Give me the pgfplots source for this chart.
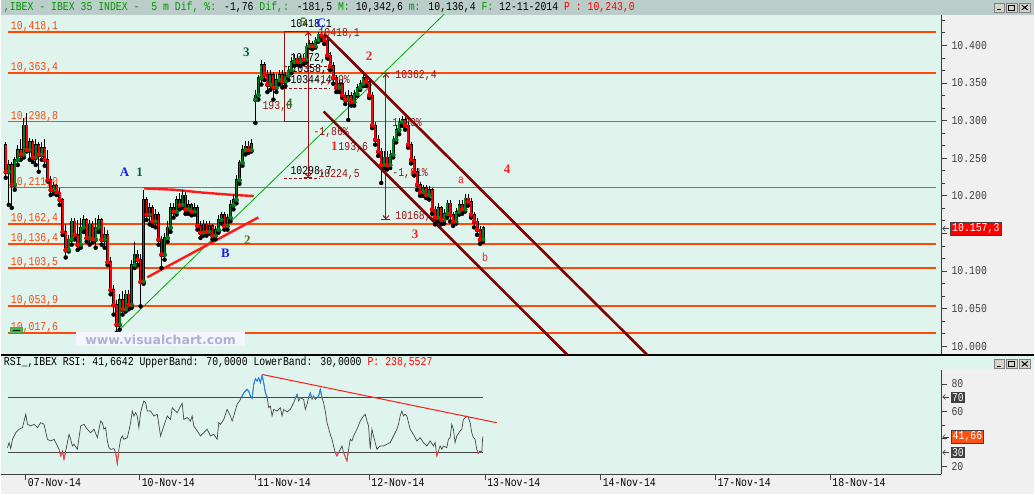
\documentclass[border=0pt]{standalone}
\usepackage{pgfplots}
\pgfplotsset{compat=1.18}
\usepackage{pgfplotstable}
\usetikzlibrary{arrows.meta}
\usepackage{fontspec}
\setmainfont{Liberation Serif}
\newfontfamily\gul{Liberation Mono}[FakeStretch=0.82]
\newfontfamily\wmfont{DejaVu Sans}
\newcommand\lf{\gul\fontsize{12}{12}\selectfont}

\definecolor{mint}{RGB}{224,244,238}
\definecolor{chrome}{RGB}{240,240,240}
\definecolor{titlebar}{RGB}{186,205,200}
\definecolor{lvl}{RGB}{255,72,10}
\definecolor{chan}{RGB}{130,0,0}
\definecolor{fib}{RGB}{150,20,20}
\definecolor{tri}{RGB}{255,25,25}
\definecolor{trend}{RGB}{0,170,0}
\definecolor{cred}{RGB}{255,0,0}
\definecolor{cgreen}{RGB}{0,130,30}
\definecolor{ttlgreen}{RGB}{0,150,0}
\definecolor{axgray}{RGB}{64,64,64}
\definecolor{rsigray}{RGB}{70,70,70}
\definecolor{rsiblue}{RGB}{30,130,255}
\definecolor{rsired}{RGB}{255,60,60}
\definecolor{wgreen}{RGB}{0,95,60}
\definecolor{wolive}{RGB}{85,110,20}
\definecolor{wblue}{RGB}{30,30,230}
\definecolor{wred}{RGB}{255,30,30}
\definecolor{wm}{RGB}{176,176,210}
\definecolor{boxorange}{RGB}{255,80,20}
\definecolor{btn}{RGB}{215,212,205}

% 5 minute candles of IBEX 35, x in chart pixels
\pgfplotstableread{
x o h l c
5 10268 10271 10224 10232
8 10232 10248 10188 10241
11 10241 10245 10184 10215
14 10215 10251 10208 10248
17 10248 10267 10241 10261
20 10261 10275 10248 10255
23 10255 10304 10251 10294
26 10294 10310 10259 10261
29 10261 10277 10248 10272
32 10272 10275 10245 10251
35 10251 10275 10241 10268
38 10268 10272 10232 10255
41 10255 10272 10248 10264
44 10264 10275 10240 10248
47 10248 10261 10219 10221
50 10221 10227 10201 10208
53 10208 10219 10203 10213
56 10213 10216 10201 10205
59 10205 10211 10188 10195
62 10195 10197 10148 10152
65 10152 10162 10118 10128
68 10128 10148 10126 10142
71 10142 10171 10135 10166
74 10166 10171 10142 10148
77 10148 10168 10128 10135
80 10135 10171 10131 10158
83 10158 10175 10152 10168
86 10168 10171 10139 10144
89 10144 10168 10135 10162
92 10162 10166 10138 10142
95 10142 10171 10131 10158
98 10158 10174 10152 10168
101 10168 10171 10135 10142
104 10142 10158 10131 10148
107 10148 10155 10108 10112
110 10112 10118 10069 10075
113 10075 10082 10042 10055
116 10055 10062 10018 10029
119 10029 10069 10022 10062
122 10062 10073 10042 10049
125 10049 10075 10046 10069
128 10069 10075 10049 10055
131 10055 10115 10051 10108
134 10108 10138 10104 10122
137 10122 10128 10108 10115
140 10115 10122 10053 10086
143 10086 10208 10083 10195
146 10195 10199 10168 10175
149 10175 10191 10162 10184
152 10184 10188 10160 10166
155 10166 10182 10158 10175
158 10175 10179 10135 10142
161 10142 10147 10104 10122
164 10122 10151 10115 10144
167 10144 10166 10139 10158
170 10158 10190 10152 10184
173 10184 10191 10171 10179
176 10179 10200 10175 10195
179 10195 10204 10182 10188
182 10188 10208 10184 10201
185 10201 10205 10176 10182
188 10182 10195 10176 10188
191 10188 10191 10174 10179
194 10179 10190 10175 10184
197 10184 10188 10155 10160
200 10160 10166 10144 10151
203 10151 10168 10147 10162
206 10162 10166 10147 10152
209 10152 10166 10150 10160
212 10160 10163 10142 10147
215 10147 10160 10142 10155
218 10155 10175 10151 10168
221 10168 10179 10163 10175
224 10175 10179 10155 10160
227 10160 10176 10155 10171
230 10171 10195 10166 10188
233 10188 10201 10182 10195
236 10195 10228 10190 10221
239 10221 10248 10216 10244
242 10244 10268 10240 10261
245 10261 10273 10255 10266
248 10266 10273 10257 10261
251 10261 10275 10259 10269
255 10328 10341 10297 10334
258 10334 10361 10328 10357
261 10357 10381 10348 10374
264 10374 10378 10354 10361
267 10361 10367 10338 10348
270 10348 10367 10341 10361
273 10361 10365 10328 10344
276 10344 10362 10338 10354
279 10354 10367 10348 10361
282 10361 10367 10344 10352
285 10352 10365 10346 10360
288 10360 10373 10354 10367
291 10367 10385 10363 10378
294 10378 10389 10373 10383
297 10383 10387 10374 10378
300 10378 10387 10373 10383
303 10383 10389 10375 10381
306 10381 10403 10378 10399
309 10399 10407 10397 10402
312 10402 10406 10395 10399
315 10399 10411 10397 10407
318 10407 10418.1 10405 10415
321 10415 10418 10407 10413
324 10413 10416 10402 10407
327 10407 10410 10383 10387
330 10387 10391 10367 10373
333 10373 10378 10349 10357
336 10357 10361 10338 10344
339 10344 10354 10338 10349
342 10349 10354 10330 10334
345 10334 10338 10322 10328
348 10328 10341 10301 10333
351 10333 10338 10320 10325
354 10325 10341 10320 10336
357 10336 10349 10333 10344
360 10344 10354 10341 10349
363 10349 10361 10346 10357
366 10357 10362.4 10346 10352
369 10352 10354 10330 10334
372 10334 10338 10290 10294
375 10294 10298 10268 10275
378 10275 10281 10253 10259
381 10259 10264 10217 10241
384 10241 10259 10237 10251
387 10251 10259 10235 10241
390 10241 10261 10237 10255
393 10255 10280 10251 10275
396 10275 10294 10271 10288
399 10288 10304 10282 10298
402 10298 10306 10293 10301
405 10301 10305 10288 10294
408 10294 10298 10264 10268
411 10268 10272 10243 10248
414 10248 10253 10227 10232
417 10232 10237 10208 10215
420 10215 10219 10200 10205
423 10205 10215 10200 10211
426 10211 10215 10197 10201
429 10201 10213 10195 10208
432 10208 10211 10176 10182
435 10182 10187 10162 10171
438 10171 10190 10166 10184
441 10184 10187 10162 10168
444 10168 10182 10163 10176
447 10176 10195 10171 10190
450 10190 10195 10166 10175
453 10175 10179 10160 10166
456 10166 10184 10163 10179
459 10179 10195 10175 10188
462 10188 10195 10176 10182
465 10182 10203 10179 10197
468 10197 10203 10187 10192
471 10192 10197 10171 10175
474 10175 10179 10158 10166
477 10166 10171 10148 10155
480 10155 10160 10136 10142
483 10142 10160 10139 10157.3
}\candles

\pgfplotstableread{
x r
6.7 33.6
8.3 37.3
10 32.9
11.7 39.7
15 44.5
18.3 47.0
21.7 48.2
25 57.9
26.7 50.6
30 49.4
33.3 50.6
36.7 48.2
40 51.8
43.3 50.6
46.7 39.7
50 38.5
53.3 39.7
56.7 34.8
58.3 32.4
60 27.6
61.7 31.2
63.3 25.2
65 31.2
66.7 37.3
68.3 43.3
70 39.7
71.7 34.8
73.3 36.1
76.7 32.4
80 49.4
83.3 50.6
86.7 47.0
90 44.5
93.3 47.0
96.7 40.9
100 53.0
101.7 51.8
103.3 47.0
105 48.2
106.7 38.5
108.3 33.6
110 32.4
113.3 32.9
115 30.0
116.7 22.0
118.3 32.4
120 39.7
121.7 42.1
123.3 39.7
126.7 40.9
128.3 45.8
130 51.8
131.7 60.3
133.3 56.7
135 59.1
136.7 56.7
138.3 48.2
140 59.1
141.7 63.9
143.3 67.6
145 66.4
146.7 60.3
150 60.3
153.3 56.7
156.7 57.9
160 42.1
163.3 49.4
166.7 56.7
170 54.2
171.7 62.7
173.3 61.5
176.7 59.1
180 63.9
181.7 65.9
183.3 54.2
186.7 55.5
190 53.0
191.7 56.7
193.3 49.4
196.7 45.8
200 42.1
203.3 44.5
206.7 47.0
210 42.1
213.3 43.3
216.7 39.7
218.3 51.8
220 50.6
223.3 54.2
226.7 61.5
230 56.7
231.7 53.0
233.3 56.7
236.7 65.2
240 68.8
243.3 73.6
246.7 76.1
248.3 74.8
250 71.2
251.7 69.3
253.3 79.7
255 83.8
256.7 82.1
258.3 84.5
260 80.9
261.7 86.2
263.3 80.9
265 73.6
266.7 70.5
268.3 62.7
270 63.9
271.7 56.7
273.3 61.5
276.7 60.3
280 62.7
281.7 56.7
283.3 61.5
286.7 59.6
290 61.5
293.3 66.4
296.7 72.4
298.3 67.6
300 70.0
303.3 68.8
305 61.5
306.7 65.2
308.3 70.0
310 73.6
311.7 68.8
313.3 71.2
315 68.8
318.3 71.2
320 76.1
321.7 70.0
323.3 66.4
325 60.3
326.7 51.8
330 43.3
331.7 39.7
333.3 34.8
335 30.0
336.7 27.6
340 32.4
341.7 34.8
343.3 30.0
346.7 23.9
348.3 32.4
350 39.7
351.7 38.5
353.3 42.1
356.7 47.0
360 53.0
363.3 56.7
365 57.9
366.7 53.0
368.3 49.4
370 32.4
371.7 47.0
373.3 42.1
376.7 32.4
380 34.8
383.3 34.8
386.7 36.1
390 37.3
393.3 42.1
396.7 47.0
398.3 50.6
400 56.7
401.7 60.3
403.3 56.7
405 57.9
406.7 56.7
410 47.0
413.3 43.3
416.7 38.5
420 40.9
423.3 37.3
426.7 34.8
430 38.5
433.3 34.8
435 37.3
436.7 27.6
440 34.8
441.7 32.4
443.3 34.8
446.7 33.6
448.3 39.7
450 40.9
451.7 50.6
453.3 47.0
455 37.3
456.7 42.1
460 45.8
461.7 47.0
463.3 54.2
466.7 56.7
468.3 55.5
470 51.8
471.7 44.5
473.3 40.9
475 39.7
476.7 32.4
478.3 29.5
480 31.2
481.7 30.0
482.7 41.66
}\rsi

\tikzset{
  fibt/.style={font=\lf, text=fib, anchor=west, inner sep=0pt},
  blk/.style={font=\lf, text=black, anchor=west, inner sep=0pt},
  lvlt/.style={font=\lf, text=lvl, anchor=base west, inner sep=0pt, yshift=2.5pt},
  wv/.style={font=\fontsize{13}{13}\selectfont\bfseries, inner sep=0pt},
  wsm/.style={font=\lf, inner sep=0pt, text=wred},
  winbtn/.style={fill=btn, draw=gray, line width=0.5pt},
  fdash/.style={fib, line width=0.9pt, dash pattern=on 3pt off 2pt},
  lvlline/.style={lvl, line width=1.8pt},
}

\begin{document}
\begin{tikzpicture}
% window chrome
\begin{scope}[x=1pt,y=1pt]
\fill[chrome] (0,0) rectangle (1035,495);
\fill[titlebar] (0,480) rectangle (1035,495);
\fill[mint] (0,140) rectangle (942,480);
\fill[mint] (0,20) rectangle (942,124);
\fill[mint] (0,124) rectangle (1035,139);
\draw[black, line width=1.6pt] (0,139.3) -- (1035,139.3);
\node[anchor=west, inner sep=0pt] at (3,488) {\lf\textcolor{ttlgreen}{,IBEX - IBEX 35 INDEX -\ \ 5 m Dif, \%:} -1,76 \textcolor{ttlgreen}{Dif,:} -181,5 \textcolor{ttlgreen}{M:} 10,342,6 \textcolor{ttlgreen}{m:} 10,136,4 \textcolor{ttlgreen}{F:} 12-11-2014 \textcolor{red}{P : 10,243,0}};
\node[anchor=west, inner sep=0pt] at (3,132) {\lf RSI\_,IBEX RSI: 41,6642 UpperBand: 70,0000 LowerBand: 30,0000 \textcolor{red}{P: 238,5527}};
\end{scope}

% ---------------- price panel ----------------
\begin{axis}[
  at={(0pt,140pt)}, anchor=south west, scale only axis,
  width=942pt, height=340pt,
  xmin=0, xmax=942, ymin=9989.0, ymax=10440.5,
  axis x line=none, axis y line*=right,
  axis line style={axgray, line width=0.8pt, -},
  scaled y ticks=false,
  ytick={10000,10050,10100,10150,10200,10250,10300,10350,10400},
  yticklabels={10.000,10.050,10.100,{},10.200,10.250,10.300,10.350,10.400},
  minor ytick={10016.67,10033.33,10066.67,10083.33,10116.67,10133.33,10166.67,10183.33,10216.67,10233.33,10266.67,10283.33,10316.67,10333.33,10366.67,10383.33,10416.67,10433.33},
  tick align=outside, major tick length=6pt, minor tick length=4pt,
  tick style={axgray, line width=0.8pt},
  yticklabel style={font=\lf, text=axgray, anchor=west, inner sep=0pt, xshift=4pt},
]
% support / resistance levels
\addplot[lvlline] coordinates {(7,10418.1) (937,10418.1)};
\addplot[lvlline] coordinates {(7,10363.4) (937,10363.4)};
\addplot[lvlline] coordinates {(7,10298.8) (937,10298.8)};
\addplot[lvlline] coordinates {(7,10211.0) (937,10211.0)};
\addplot[lvlline] coordinates {(7,10162.4) (937,10162.4)};
\addplot[lvlline] coordinates {(7,10136.4) (937,10136.4)};
\addplot[lvlline] coordinates {(7,10103.5) (937,10103.5)};
\addplot[lvlline] coordinates {(7,10053.9) (937,10053.9)};
\addplot[lvlline] coordinates {(7,10017.6) (937,10017.6)};
\node[lvlt] at (10,10418.1) {10,418,1};
\node[lvlt] at (10,10363.4) {10,363,4};
\node[lvlt] at (10,10298.8) {10,298,8};
\node[lvlt] at (10,10211.0) {10,211,0};
\node[lvlt] at (10,10162.4) {10,162,4};
\node[lvlt] at (10,10136.4) {10,136,4};
\node[lvlt] at (10,10103.5) {10,103,5};
\node[lvlt] at (10,10053.9) {10,053,9};
\node[lvlt] at (10,10017.6) {10,017,6};

% trend lines
\addplot[trend, line width=0.8pt] coordinates {(116.7,10019.1) (446,10444)};
\addplot[tri, line width=2.4pt] coordinates {(143.3,10209.8) (173.3,10208.1) (200,10204.5) (230,10201.4) (253.3,10199.7)};
\addplot[tri, line width=2.4pt] coordinates {(146.7,10091.6) (258,10171.3)};

% fibonacci measurements
\draw[fib, line width=1pt] (284,10298.8) rectangle (308,10418.1);
\draw[fib, line width=1pt] (308,10298.8) -- (308,10224.5);
\draw[fdash] (284,10371.9) -- (330,10371.9);
\draw[fdash] (284,10343.1) -- (330,10343.1);
\draw[fdash] (284,10223.6) -- (320,10223.6);
\draw[fib, line width=1pt, -{Straight Barb[length=3pt,width=6pt]}] (308,10405) -- (308,10418.1);
\draw[fib, line width=1pt, -{Straight Barb[length=3pt,width=6pt]}] (308,10236) -- (308,10224.5);
\draw[fib, line width=1pt] (304,10224.5) -- (312,10224.5);
\draw[fib, line width=1pt] (385.7,10362.4) -- (385.7,10168.8);
\draw[fib, line width=1pt, -{Straight Barb[length=3pt,width=6pt]}] (385.7,10350) -- (385.7,10362.4);
\draw[fib, line width=1pt, -{Straight Barb[length=3pt,width=6pt]}] (385.7,10180) -- (385.7,10168.8);
\draw[fib, line width=1pt] (381,10168.8) -- (390,10168.8);
\draw[fib, line width=1pt] (381,10362.4) -- (390,10362.4);

\node[blk] at (290,10427.2) {10418,1};
\node[fibt] at (318,10416) {10418,1};
\node[blk] at (290,10382.0) {10372,5};
\node[blk] at (291,10367.4) {10358,4};
\node[blk] at (290,10352.8) {10344,4};
\node[fibt] at (314,10352.8) {-1,89\%};
\node[fibt] at (262,10318.7) {193,6};
\node[fibt] at (313,10284.2) {-1,86\%};
\node[fibt] at (338,10263.9) {193,6};
\node[blk] at (290,10232.4) {10298,7};
\node[fibt] at (318,10228.0) {10224,5};
\node[fibt] at (395,10359.5) {10362,4};
\node[fibt] at (392,10295.7) {1,90\%};
\node[fibt] at (392,10229.3) {-1,81\%};
\node[fibt] at (395,10172.6) {10168,8};

% candles: wicks, outlines, bodies
\addplot[black, only marks, mark=none,
  error bars/.cd, y dir=plus, y explicit, error mark=none,
  error bar style={line width=0.9pt}]
  table[x=x, y=l, y error expr=\thisrow{h}-\thisrow{l}] {\candles};
\addplot[black, only marks, mark=none,
  error bars/.cd, y dir=plus, y explicit, error mark=none,
  error bar style={line width=3pt}]
  table[x=x, y expr={min(\thisrow{o},\thisrow{c})-0.7}, y error expr={abs(\thisrow{c}-\thisrow{o})+1.4}] {\candles};
\addplot[cgreen, only marks, mark=none,
  restrict expr to domain={\thisrow{c}-\thisrow{o}}{0:1000},
  error bars/.cd, y dir=plus, y explicit, error mark=none,
  error bar style={line width=1.8pt}]
  table[x=x, y=o, y error expr={\thisrow{c}-\thisrow{o}}] {\candles};
\addplot[cred, only marks, mark=none,
  restrict expr to domain={\thisrow{o}-\thisrow{c}}{0.001:1000},
  error bars/.cd, y dir=plus, y explicit, error mark=none,
  error bar style={line width=1.8pt}]
  table[x=x, y=c, y error expr={\thisrow{o}-\thisrow{c}}] {\candles};

% down channel
\addplot[chan, line width=2.6pt] coordinates {(325,10413.9) (650,9985)};
\addplot[chan, line width=2.6pt] coordinates {(323.3,10312.1) (570,9985)};

% wave counts
\node[wv, text=wgreen] at (246,10390.4) {3};
\node[wv, text=wolive] at (303,10430.3) {5};
\node[wv, text=wblue] at (321,10429.5) {C};
\node[wv, text=wolive!70!teal] at (289,10323.6) {4};
\node[wv, text=wred] at (334,10266.5) {1};
\node[wv, text=wred] at (369,10385.1) {2};
\node[wv, text=wred] at (415,10148.3) {3};
\node[wv, text=wred] at (507,10236.0) {4};
\node[wsm] at (461,10220.0) {a};
\node[wsm] at (485,10118.2) {b};
\node[wv, text=wblue] at (124,10231.1) {A};
\node[wv, text=wgreen] at (139,10231.1) {1};
\node[wv, text=wblue] at (225,10123.1) {B};
\node[wv, text=wolive] at (247,10140.4) {2};
\end{axis}

% ---------------- RSI panel ----------------
\begin{axis}[
  at={(0pt,20pt)}, anchor=south west, scale only axis,
  width=942pt, height=104pt,
  xmin=0, xmax=942, ymin=14.2, ymax=89.9,
  axis x line*=bottom, axis y line*=right,
  axis line style={axgray, line width=0.8pt, -},
  xtick={25,139,255,369,485,600.7,715.7,830.7},
  xticklabels={07-Nov-14,10-Nov-14,11-Nov-14,12-Nov-14,13-Nov-14,14-Nov-14,17-Nov-14,18-Nov-14},
  ytick={20,40,60,80}, yticklabels={20,{},60,80}, minor ytick={50},
  tick align=outside, major tick length=6pt, minor tick length=4pt,
  tick style={axgray, line width=0.8pt},
  yticklabel style={font=\lf, text=axgray, anchor=west, inner sep=0pt, xshift=4pt},
  xticklabel style={font=\lf, text=black, anchor=north west, inner sep=0pt, xshift=2pt, yshift=2pt},
]
\addplot[rsigray, line width=1.1pt] coordinates {(7,70) (482.7,70)};
\addplot[rsigray, line width=1.1pt] coordinates {(7,30) (482.7,30)};
\addplot[rsigray, line width=0.7pt] table[x=x, y=r] {\rsi};
\addplot[tri, line width=1pt] coordinates {(262,86.9) (496.7,51.8)};
\end{axis}
% RSI above the upper band (same scale, clipped to 70..89.9)
\begin{axis}[
  at={(0pt,96.66pt)}, anchor=south west, scale only axis,
  width=942pt, height=27.34pt,
  xmin=0, xmax=942, ymin=70, ymax=89.9, hide axis,
]
\addplot[rsiblue, line width=0.8pt] table[x=x, y=r] {\rsi};
\end{axis}
% RSI below the lower band (clipped to 14.2..30)
\begin{axis}[
  at={(0pt,20pt)}, anchor=south west, scale only axis,
  width=942pt, height=21.71pt,
  xmin=0, xmax=942, ymin=14.2, ymax=30, hide axis,
]
\addplot[rsired, line width=0.8pt] table[x=x, y=r] {\rsi};
\end{axis}

\begin{scope}[x=1pt,y=1pt]
% last value boxes on the scales
\draw[axgray, line width=0.6pt, {Straight Barb[length=2.5pt,width=5pt]}-] (943,266) -- (950,266);
\node[fill=red, draw=axgray, line width=0.8pt, text=white, font=\lf, inner sep=1.5pt, anchor=west] at (951,266) {10.157,3};
\draw[axgray, line width=0.6pt, {Straight Barb[length=2.5pt,width=5pt]}-] (943,97.3) -- (950,97.3);
\draw[axgray, line width=0.6pt, {Straight Barb[length=2.5pt,width=5pt]}-] (943,57.4) -- (950,57.4);
\draw[axgray, line width=0.6pt, {Straight Barb[length=2.5pt,width=5pt]}-] (943,41.7) -- (950,41.7);
\node[fill=axgray, text=white, font=\lf, inner sep=1.5pt, anchor=west] at (951,97.3) {70};
\node[fill=boxorange, draw=axgray, line width=0.8pt, text=white, font=\lf, inner sep=1.5pt, anchor=west] at (951.5,57.4) {41,66};
\node[fill=axgray, text=white, font=\lf, inner sep=1.5pt, anchor=west] at (951,41.7) {30};

% watermark and small marker
\fill[white!96!blue] (75,148.3) rectangle (245,162);
\node[text=wm, font=\wmfont\bfseries\fontsize{12.5}{12.5}\selectfont, inner sep=0pt] at (160,155) {www.visualchart.com};
\fill[green!55!black!70] (9,161.7) rectangle (22.7,167.3);
\draw[black, line width=0.8pt] (12,164.5) -- (19.5,164.5);

% window buttons
\foreach \yb in {483,126} {
  \draw[winbtn] (995,\yb) rectangle (1005,\yb+9);
  \draw[winbtn] (1007,\yb) rectangle (1018,\yb+9);
  \draw[winbtn] (1020,\yb) rectangle (1031,\yb+9);
  \draw[black, line width=1pt] (997.5,\yb+2) -- (1002,\yb+2);
  \draw[black, line width=0.8pt] (1009.5,\yb+2) rectangle (1015.5,\yb+7);
  \draw[black, line width=1pt] (1022.5,\yb+2) -- (1028.5,\yb+7) (1022.5,\yb+7) -- (1028.5,\yb+2);
}
\end{scope}
\end{tikzpicture}
\end{document}
